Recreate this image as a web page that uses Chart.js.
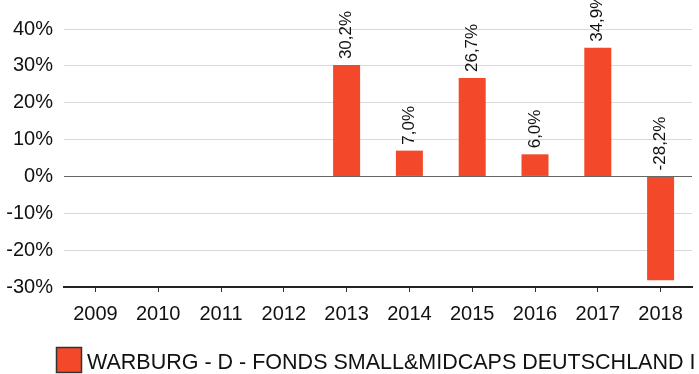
<!DOCTYPE html>
<html>
<head>
<meta charset="utf-8">
<script src="https://cdn.jsdelivr.net/npm/chart.js@4/dist/chart.umd.min.js"></script>
<style>
  html, body { margin: 0; padding: 0; background: #fff; overflow: hidden; }
  #wrap { position: relative; width: 699px; height: 374px; }
</style>
</head>
<body>
<div id="wrap"><canvas id="c" width="699" height="374"></canvas></div>
<script>
// Annual returns per calendar year (percent); years without data are null
const years = ['2009', '2010', '2011', '2012', '2013', '2014', '2015', '2016', '2017', '2018'];
const returns = [null, null, null, null, 30.2, 7.0, 26.7, 6.0, 34.9, -28.2];
const yTickValues = [-30, -20, -10, 0, 10, 20, 30, 40];
const seriesName = 'WARBURG - D - FONDS SMALL&MIDCAPS DEUTSCHLAND I';

const BAR_COLOR = '#F4482A';
const FONT = '"Liberation Sans", Arial, sans-serif';

const fmtPct = v => v.toFixed(1).replace('.', ',') + '%';

// Rotated value labels above each bar (negative bars: above the zero line)
const valueLabelPlugin = {
  id: 'valueLabels',
  afterDatasetsDraw(chart) {
    const { ctx, scales } = chart;
    const meta = chart.getDatasetMeta(0);
    ctx.save();
    ctx.font = '17px ' + FONT;
    ctx.fillStyle = '#111';
    ctx.textAlign = 'left';
    ctx.textBaseline = 'middle';
    meta.data.forEach((bar, i) => {
      const v = returns[i];
      if (v === null) return;
      const y = scales.y.getPixelForValue(Math.max(v, 0)) - 6;
      ctx.save();
      ctx.translate(bar.x, y);
      ctx.rotate(-Math.PI / 2);
      ctx.fillText(fmtPct(v), 0, 0);
      ctx.restore();
    });
    ctx.restore();
  }
};

// Legend entry below the axis
const legendPlugin = {
  id: 'bottomLegend',
  afterDraw(chart) {
    const { ctx } = chart;
    ctx.save();
    ctx.fillStyle = BAR_COLOR;
    ctx.fillRect(56, 347, 26, 26);
    ctx.strokeStyle = '#333';
    ctx.lineWidth = 1.5;
    ctx.strokeRect(56.5, 347.5, 25, 25);
    ctx.font = '21.5px ' + FONT;
    ctx.fillStyle = '#111';
    ctx.textAlign = 'left';
    ctx.textBaseline = 'middle';
    ctx.fillText(seriesName, 87, 363);
    ctx.restore();
  }
};

new Chart(document.getElementById('c'), {
  type: 'bar',
  data: {
    labels: years,
    datasets: [{
      label: seriesName,
      data: returns,
      backgroundColor: BAR_COLOR,
      borderWidth: 0,
      barPercentage: 0.86,
      categoryPercentage: 0.5
    }]
  },
  options: {
    responsive: false,
    animation: false,
    devicePixelRatio: 1,
    layout: { padding: { top: 29, left: 0, right: 7, bottom: 47 } },
    plugins: {
      legend: { display: false },
      tooltip: { enabled: false }
    },
    scales: {
      x: {
        afterFit(scale) { scale.height = 40; },
        grid: {
          offset: false,
          drawOnChartArea: false,
          drawTicks: true,
          tickLength: 5,
          color: '#333'
        },
        border: { display: true, color: '#222', width: 2 },
        ticks: {
          font: { family: FONT, size: 20 },
          color: '#111',
          padding: 10,
          maxRotation: 0
        }
      },
      y: {
        min: -30,
        max: 40,
        afterFit(scale) { scale.width = 64; },
        afterBuildTicks(scale) { scale.ticks = yTickValues.map(v => ({ value: v })); },
        grid: {
          drawTicks: false,
          color: ctx => (ctx.tick && ctx.tick.value === 0) ? '#666' : '#d9d9d9',
          lineWidth: 1
        },
        border: { display: false },
        ticks: {
          font: { family: FONT, size: 20 },
          color: '#111',
          padding: 11,
          callback: v => v + '%'
        }
      }
    }
  },
  plugins: [valueLabelPlugin, legendPlugin]
});
</script>
</body>
</html>
